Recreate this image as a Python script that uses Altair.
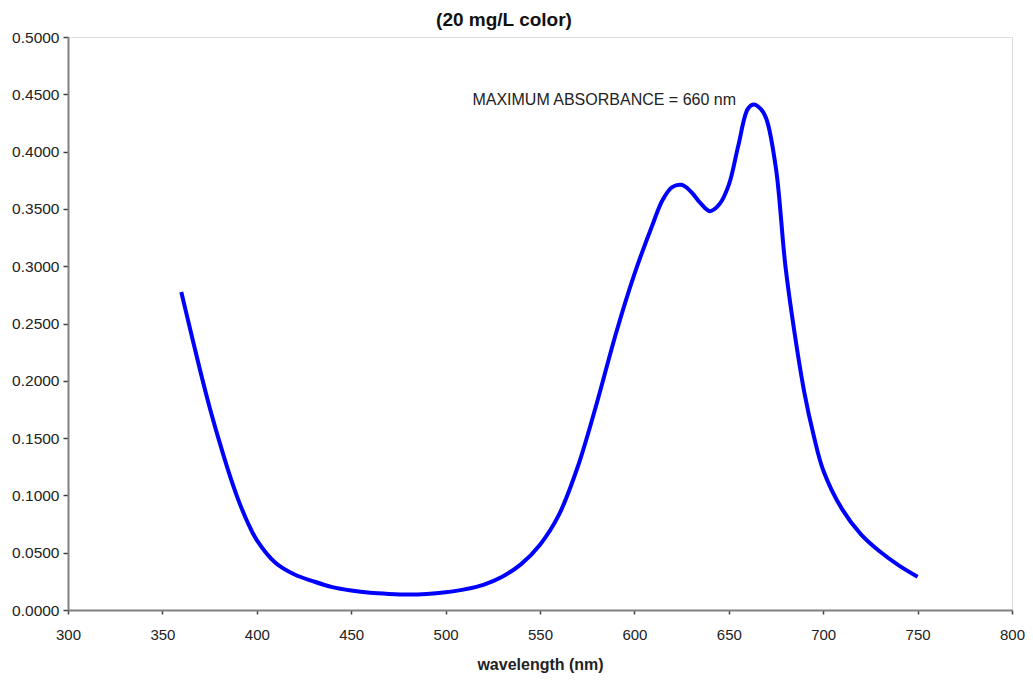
import altair as alt
import pandas as pd

wavelength = [360, 365, 370, 375, 380, 385, 390, 395, 400, 410, 420, 430, 440, 450,
              460, 470, 480, 490, 500, 510, 520, 530, 540, 550, 560, 570, 580, 590,
              600, 610, 615, 620, 625, 630, 635, 640, 645, 650, 655, 660, 663, 667,
              670, 675, 680, 685, 690, 695, 700, 710, 720, 730, 740, 750]
absorbance = [0.2775, 0.243, 0.209, 0.177, 0.148, 0.121, 0.097, 0.077, 0.061, 0.041,
              0.031, 0.025, 0.020, 0.017, 0.015, 0.014, 0.0135, 0.014, 0.0155, 0.018,
              0.022, 0.029, 0.040, 0.057, 0.083, 0.125, 0.180, 0.240, 0.293, 0.338,
              0.358, 0.369, 0.371, 0.365, 0.355, 0.348, 0.354, 0.371, 0.405, 0.437,
              0.441, 0.437, 0.428, 0.385, 0.300, 0.240, 0.190, 0.152, 0.122, 0.088,
              0.066, 0.051, 0.039, 0.029]

x_ticks = [300, 350, 400, 450, 500, 550, 600, 650, 700, 750, 800]
y_ticks = [0.0, 0.05, 0.1, 0.15, 0.2, 0.25, 0.3, 0.35, 0.4, 0.45, 0.5]

note_text = ["MAXIMUM ABSORBANCE = 660 nm"]
note_x = [584]
note_y = [0.445]

df = pd.DataFrame({"wavelength": wavelength, "absorbance": absorbance})
notes = pd.DataFrame({"x": note_x, "y": note_y, "text": note_text})

FONT = "Liberation Sans"

xscale = alt.Scale(domain=[300, 800], nice=False, zero=False)
yscale = alt.Scale(domain=[0, 0.5], nice=False)

line = alt.Chart(df).mark_line(color="#0000FF", strokeWidth=4, interpolate="catmull-rom").encode(
    x=alt.X("wavelength:Q", scale=xscale,
            axis=alt.Axis(values=x_ticks, title="wavelength (nm)", grid=False,
                          format="d", labelFontSize=15, titleFontSize=16,
                          titleFontWeight="bold", titlePadding=14, labelPadding=13,
                          labelFlush=False,
                          tickSize=4, domainColor="#808080", domainWidth=2,
                          tickColor="#404040", tickWidth=1.5,
                          labelColor="#222222", titleColor="#222222",
                          labelFont=FONT, titleFont=FONT)),
    y=alt.Y("absorbance:Q", scale=yscale,
            axis=alt.Axis(values=y_ticks, title=None, grid=False, format=".4f",
                          labelFontSize=15.5, tickSize=5, labelPadding=4,
                          labelFlush=False,
                          domainColor="#808080", domainWidth=2,
                          tickColor="#404040", tickWidth=1.5,
                          labelColor="#222222", labelFont=FONT)),
)

text = alt.Chart(notes).mark_text(fontSize=16, font=FONT, color="#222222").encode(
    x=alt.X("x:Q", scale=xscale),
    y=alt.Y("y:Q", scale=yscale),
    text="text:N",
)

chart = (line + text).properties(
    width=944,
    height=573,
    title=alt.TitleParams("(20 mg/L color)", fontSize=19, fontWeight="bold",
                          font=FONT, color="#111111", dx=-36, offset=0),
    padding={"left": 60, "top": 29, "right": 13, "bottom": 64},
    autosize=alt.AutoSizeParams(type="none"),
).configure_view(stroke="#808080", strokeWidth=2).configure(background="white")

chart.save("out.html", embed_options={"renderer": "svg", "actions": False})
